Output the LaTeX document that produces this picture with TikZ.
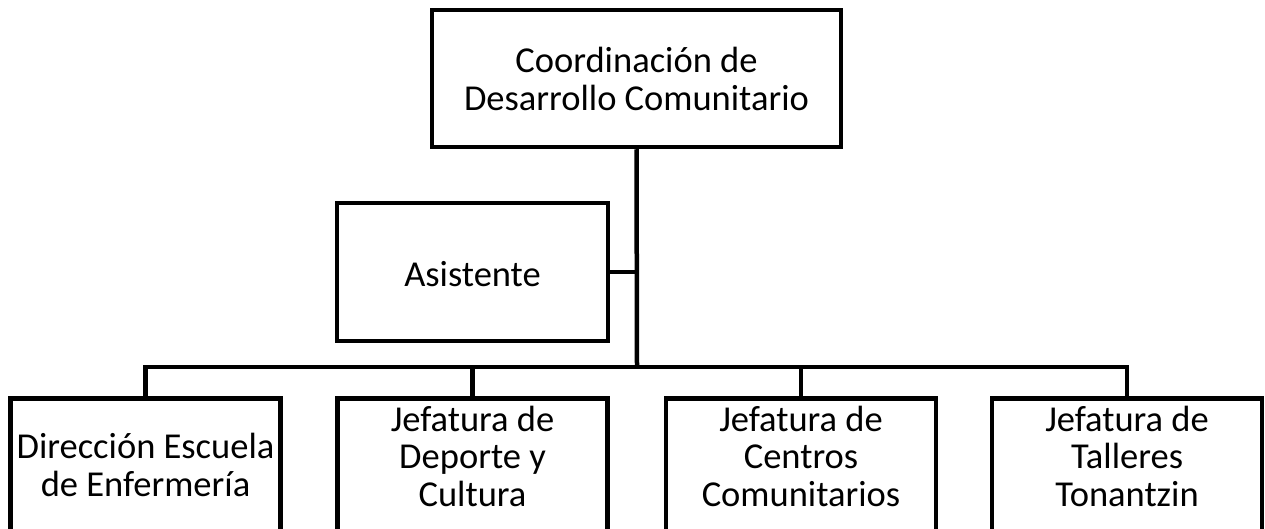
\documentclass[tikz,border=0pt]{standalone}
\usepackage{fontspec}
\setmainfont{Carlito}
\begin{document}
\begin{tikzpicture}[x=1pt,y=-1pt,
  box/.style={draw=black,line width=4.5pt,fill=white,rectangle,inner sep=0pt},
  lbl/.style={align=center,inner sep=0pt,font=\fontsize{36.5}{37.5}\selectfont},
  conn/.style={draw=black,line width=4.5pt}]
\useasboundingbox (0,0) rectangle (1265,529);
\clip (0,0) rectangle (1265,529);
% top
\node[box,minimum width=409,minimum height=137] (top) at (636.5,78.5) {};
\node[lbl] (toptxt) at (636.5,79) {Coordinación de\\Desarrollo Comunitario};
% assistant
\node[box,minimum width=271,minimum height=138] (asis) at (472.5,272) {};
\node[lbl] (asistxt) at (472.5,274) {Asistente};
% bus
\coordinate (bus) at (637,367);
% bottom boxes
\node[box,minimum width=270,minimum height=170,anchor=north] (b1) at (145.5,396) {};
\node[box,minimum width=270,minimum height=170,anchor=north] (b2) at (472.5,396) {};
\node[box,minimum width=270,minimum height=170,anchor=north] (b3) at (801,396) {};
\node[box,minimum width=270,minimum height=170,anchor=north] (b4) at (1127,396) {};
\node[lbl] (t1) at (145.5,465) {Dirección Escuela\\de Enfermería};
\node[lbl] (t2) at (472.5,456) {Jefatura de\\Deporte y\\Cultura};
\node[lbl] (t3) at (801,456) {Jefatura de\\Centros\\Comunitarios};
\node[lbl] (t4) at (1127,456) {Jefatura de\\Talleres\\Tonantzin};
% connectors
\draw[conn] (top.south) -- (bus);
\draw[conn] (asis.east) -- (asis.east -| bus);
\draw[conn,line cap=rect] (b1.north) |- (b4.north |- bus) -- (b4.north);
\draw[conn] (b2.north) -- (b2.north |- bus);
\draw[conn] (b3.north) -- (b3.north |- bus);
\end{tikzpicture}
\end{document}
